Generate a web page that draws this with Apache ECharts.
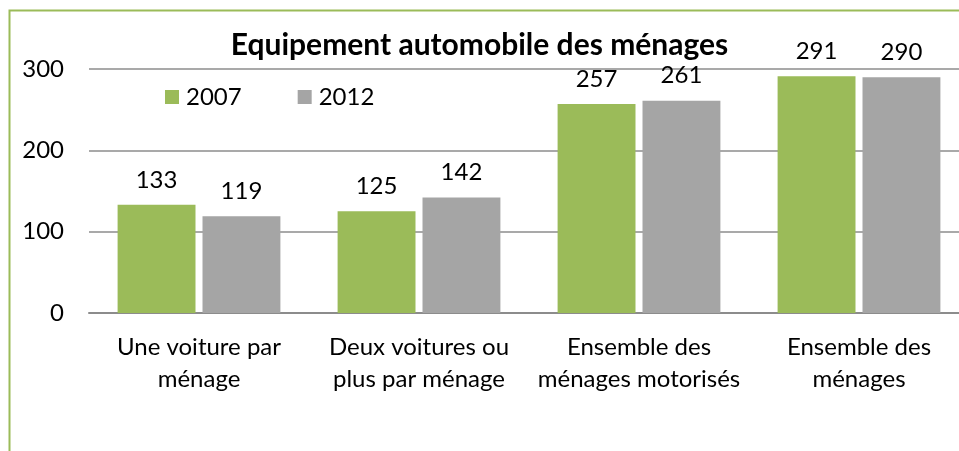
<!DOCTYPE html>
<html>
<head>
<meta charset="utf-8">
<script src="https://cdn.jsdelivr.net/npm/echarts@6/dist/echarts.min.js"></script>
<style>
  html, body { margin: 0; padding: 0; background: #fff; }
  #chart { width: 959px; height: 451px; }
</style>
</head>
<body>
<div id="chart"></div>
<script>
// Household car ownership, 2007 vs 2012
const categories = [
  'Une voiture par\nménage',
  'Deux voitures ou\nplus par ménage',
  'Ensemble des\nménages motorisés',
  'Ensemble des\nménages'
];
const seriesNames = ['2007', '2012'];
const values2007 = [133, 125, 257, 291];
const values2012 = [119, 142, 261, 290];
const yTicks = { min: 0, max: 300, interval: 100 };

const FONT = 'Lato';
const GREEN = '#9BBB59';
const GREY = '#A5A5A5';
const RULE = '#8C8C8C';

const chart = echarts.init(document.getElementById('chart'), null, { renderer: 'canvas' });

const labelStyle = {
  show: true,
  position: 'top',
  distance: 13,
  color: '#000',
  fontFamily: FONT,
  fontSize: 24
};

chart.setOption({
  animation: false,
  textStyle: { fontFamily: FONT },
  graphic: [{
    type: 'rect',
    left: 7, top: 8,
    shape: { width: 1100, height: 1000 },
    style: { fill: 'none', stroke: GREEN, lineWidth: 2 },
    silent: true
  }],
  title: {
    text: 'Equipement automobile des ménages',
    left: 'center',
    top: 25,
    textStyle: { fontFamily: FONT, fontWeight: 'bold', fontSize: 30, color: '#000' }
  },
  legend: {
    left: 160,
    top: 80,
    itemWidth: 14,
    itemHeight: 14,
    itemGap: 56,
    icon: 'rect',
    data: seriesNames,
    textStyle: { fontFamily: FONT, fontSize: 24, color: '#000', padding: [0, 0, 0, 2] }
  },
  // the plot runs a little past the right edge of the canvas
  grid: { left: 89, top: 69, width: 880, bottom: 138, containLabel: false, outerBoundsMode: 'none' },
  xAxis: {
    type: 'category',
    data: categories,
    axisLine: { show: true, lineStyle: { color: RULE, width: 2 } },
    axisTick: { show: false },
    axisLabel: {
      interval: 0,
      margin: 18,
      color: '#000',
      fontFamily: FONT,
      fontSize: 24,
      lineHeight: 32
    }
  },
  yAxis: {
    type: 'value',
    min: yTicks.min,
    max: yTicks.max,
    interval: yTicks.interval,
    axisLine: { show: false },
    axisTick: { show: false },
    splitLine: { lineStyle: { color: RULE, width: 1.5 } },
    axisLabel: { margin: 25, color: '#000', fontFamily: FONT, fontSize: 24 }
  },
  series: [
    {
      name: seriesNames[0],
      type: 'bar',
      data: values2007,
      barGap: '9%',
      barCategoryGap: '26%',
      itemStyle: { color: GREEN },
      label: labelStyle
    },
    {
      name: seriesNames[1],
      type: 'bar',
      data: values2012,
      barGap: '9%',
      barCategoryGap: '26%',
      itemStyle: { color: GREY },
      label: labelStyle
    }
  ]
});
</script>
</body>
</html>
